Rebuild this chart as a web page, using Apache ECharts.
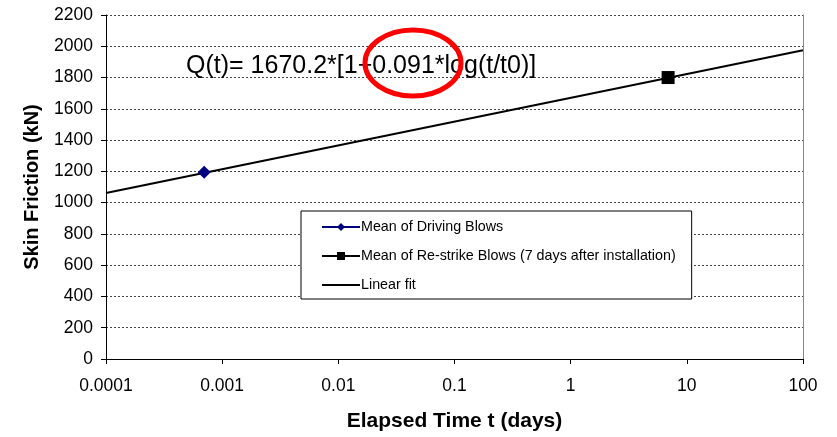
<!DOCTYPE html>
<html>
<head>
<meta charset="utf-8">
<script src="https://cdn.jsdelivr.net/npm/echarts@6/dist/echarts.min.js"></script>
<style>html,body{margin:0;padding:0;background:#fff}#c{width:837px;height:437px}</style>
</head>
<body>
<div id="c"></div>
<script>
// Data
const xTickLabels = ['0.0001', '0.001', '0.01', '0.1', '1', '10', '100'];
const drivingBlows = [[0.0007, 1195]];
const restrikeBlows = [[6.9, 1800]];
const linearFit = [[0.0001, 1062], [100, 1974]];
const seriesNames = ['Mean of Driving Blows', 'Mean of Re-strike Blows (7 days after installation)', 'Linear fit'];
const equationText = 'Q(t)= 1670.2*[1+0.091*log(t/t0)]';
const xTitle = 'Elapsed Time t (days)';
const yTitle = 'Skin Friction (kN)';

const FONT = '"Liberation Sans", Arial, sans-serif';
const chart = echarts.init(document.getElementById('c'), null, {renderer: 'canvas'});
chart.setOption({
  animation: false,
  backgroundColor: '#fff',
  textStyle: {fontFamily: FONT},
  grid: {left: 106, right: 34, top: 15, height: 349, containLabel: false},
  xAxis: {
    type: 'log', logBase: 10, min: 0.0001, max: 100,
    name: xTitle, nameLocation: 'middle', nameGap: 52,
    nameTextStyle: {fontFamily: FONT, fontSize: 21, fontWeight: 'bold', color: '#000'},
    axisLine: {show: true, lineStyle: {color: '#000', width: 1}},
    axisTick: {show: true, length: 5, lineStyle: {color: '#000'}},
    minorTick: {show: false},
    splitLine: {show: false},
    axisLabel: {
      color: '#000', fontSize: 17.5, fontFamily: FONT, margin: 18,
      formatter: v => xTickLabels[Math.round(Math.log10(v)) + 4]
    }
  },
  yAxis: [{
    type: 'value', min: 0, max: 2200, interval: 200,
    name: yTitle, nameLocation: 'middle', nameGap: 64, nameRotate: 90,
    nameTextStyle: {fontFamily: FONT, fontSize: 20, fontWeight: 'bold', color: '#000'},
    axisLine: {show: true, lineStyle: {color: '#000', width: 1}},
    axisTick: {show: true, length: 5, lineStyle: {color: '#000'}},
    splitLine: {show: true, lineStyle: {color: '#444', type: [2, 2], width: 1}},
    axisLabel: {color: '#000', fontSize: 17.5, fontFamily: FONT, margin: 13, formatter: v => String(v)}
  }, {
    type: 'value', min: 0, max: 2200, interval: 200, position: 'right',
    axisLine: {show: true, lineStyle: {color: '#888', width: 1}},
    axisTick: {show: false}, axisLabel: {show: false}, splitLine: {show: false}
  }],
  legend: {
    orient: 'vertical', left: 301, top: 211, width: 392,
    backgroundColor: '#fff', borderColor: '#000', borderWidth: 1,
    padding: [9, 16, 7, 20], itemGap: 15, itemWidth: 38, itemHeight: 10,
    textStyle: {fontFamily: FONT, fontSize: 14.3, color: '#000', padding: [0, 0, 0, -4]},
    data: [
      seriesNames[0],
      seriesNames[1],
      {name: seriesNames[2], icon: 'path://M0,0 H38 V2 H0 Z'}
    ]
  },
  series: [
    {
      name: seriesNames[2], type: 'line', data: linearFit, symbol: 'none',
      lineStyle: {color: '#000', width: 2}, itemStyle: {color: '#000'}, z: 2
    },
    {
      name: seriesNames[0], type: 'line', data: drivingBlows, symbol: 'diamond', symbolSize: 13,
      itemStyle: {color: '#000080'}, lineStyle: {color: '#000080', width: 1}, z: 3
    },
    {
      name: seriesNames[1], type: 'line', data: restrikeBlows, symbol: 'rect', symbolSize: 13,
      itemStyle: {color: '#000'}, lineStyle: {color: '#000', width: 1}, z: 3
    }
  ],
  graphic: [
    {
      type: 'text', left: 186, top: 54, z: 10,
      style: {text: equationText, font: '25px ' + FONT, fill: '#000'}
    },
    {
      type: 'ellipse', z: 11,
      shape: {cx: 413, cy: 63, rx: 48, ry: 33},
      style: {fill: 'transparent', stroke: '#ff0000', lineWidth: 5}
    }
  ]
});
</script>
</body>
</html>
